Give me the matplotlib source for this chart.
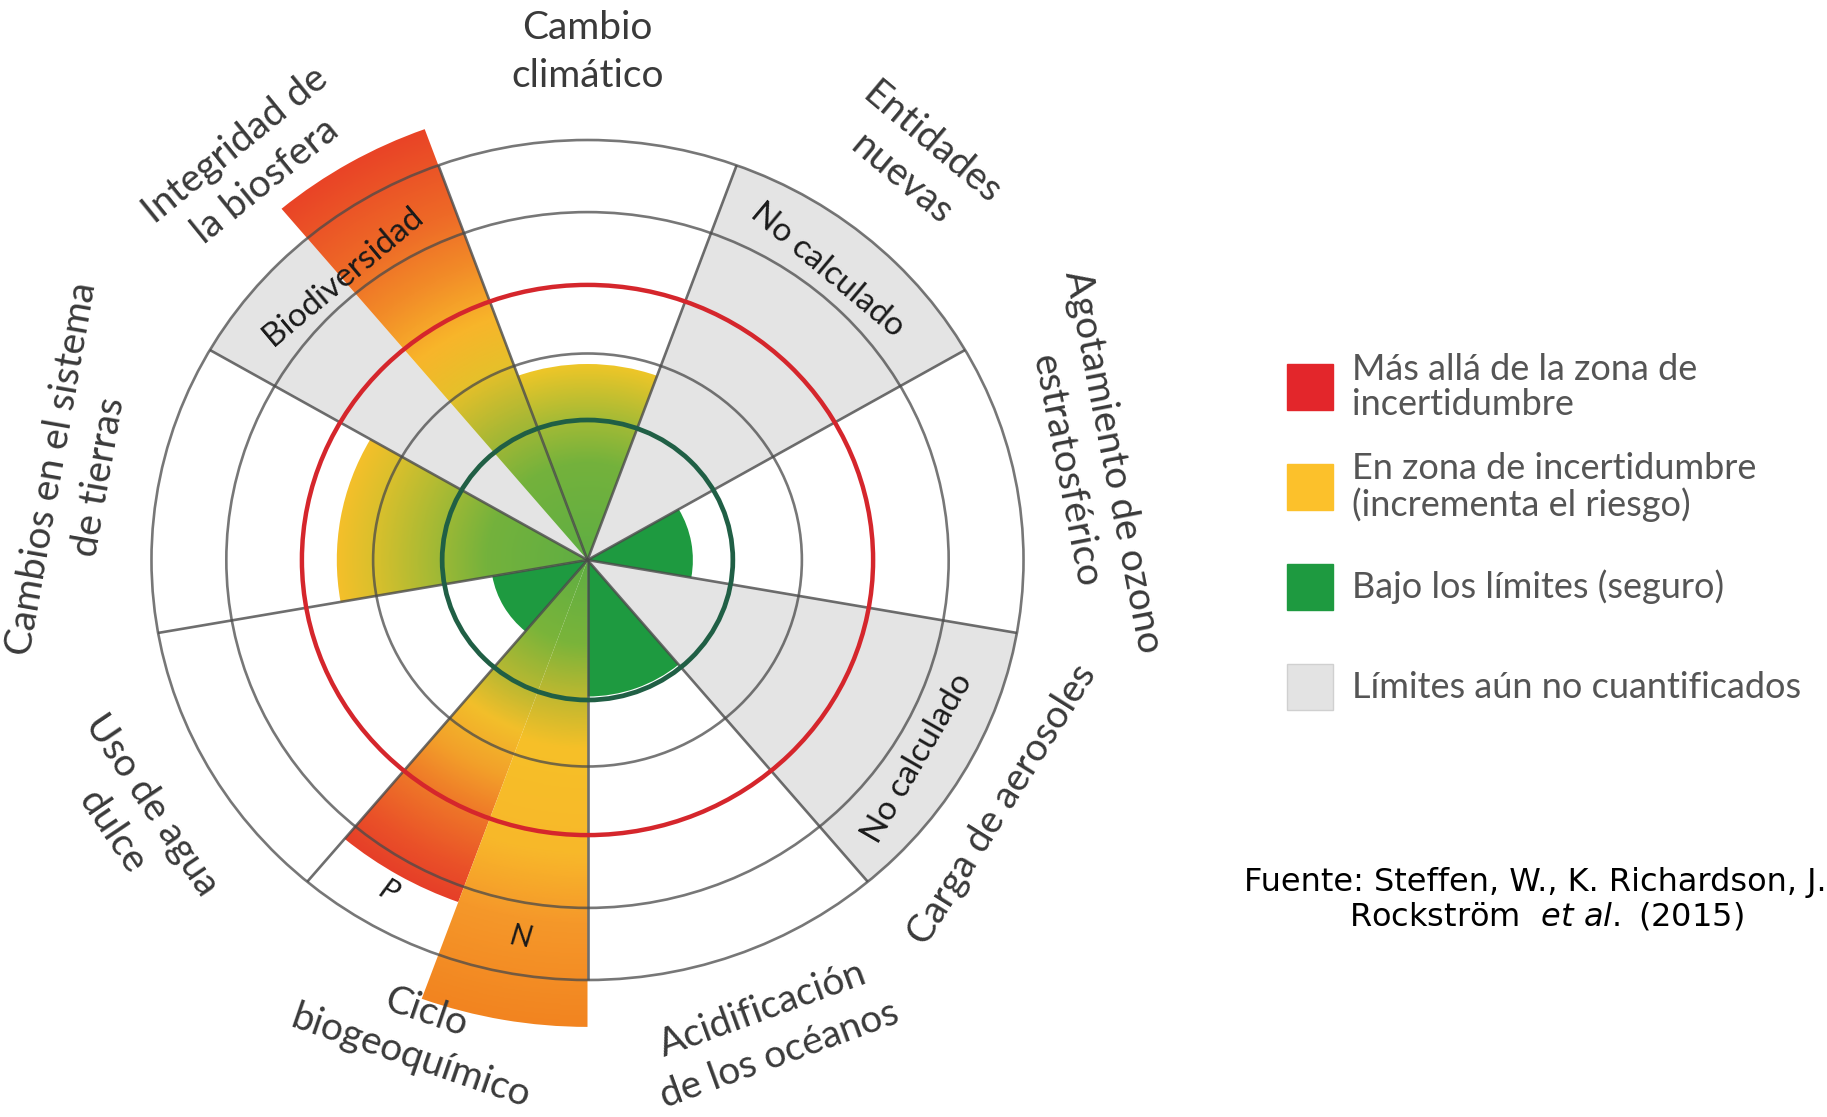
import numpy as np
import matplotlib.pyplot as plt
from matplotlib.patches import Wedge, Circle, Rectangle
from matplotlib.colors import LinearSegmentedColormap

plt.rcParams["font.family"] = ["Lato", "DejaVu Sans"]
plt.rcParams["mathtext.fontset"] = "dejavusans"

# ---- datos (radio de cada cuña; 2 = límite seguro, ~3.9 = fin de la zona de incertidumbre)
categories = ["Cambio\nclimático", "Entidades\nnuevas", "Agotamiento de ozono\nestratosférico",
              "Carga de aerosoles", "Acidificación\nde los océanos", "Ciclo\nbiogeoquímico",
              "Uso de agua\ndulce", "Cambios en el sistema\nde tierras", "Integridad de\nla biosfera"]
values = [[2.8], [None], [1.45], [None], [1.95], [5.2, 6.67], [1.33], [3.45], [6.55, None]]
rings = [2.0, 2.95, 3.93, 4.97, 6.0]
inner_texts = ["No calculado", "No calculado", "P", "N", "Biodiversidad"]

legend_labels = ["Más allá de la zona de\nincertidumbre", "En zona de incertidumbre\n(incrementa el riesgo)",
                 "Bajo los límites (seguro)", "Límites aún no cuantificados"]
legend_colors = ["#e3262b", "#fcc12b", "#1e9a40", "#e3e3e3"]
source_1 = "Fuente: Steffen, W., K. Richardson, J."
source_2 = r"Rockström  $\it{et\ al.}$ (2015)"

# ---- estilos
GREEN = "#1e9a40"
GRAY = "#e4e4e4"
grad_stops = {
    (0, 0): [(0, "#5fae43"), (1.4, "#74b23c"), (2.0, "#a2ba36"), (2.8, "#eec628")],
    (5, 0): [(0, "#5fae43"), (1.2, "#7ab43a"), (2.0, "#b8b832"), (2.6, "#f2bf2a"), (3.3, "#f3a02a"),
             (4.0, "#ee7428"), (4.7, "#ea5228"), (5.2, "#e63f28")],
    (5, 1): [(0, "#5fae43"), (1.2, "#7ab43a"), (2.0, "#c0b830"), (2.7, "#f6c028"), (4.2, "#f8b82a"),
             (5.2, "#f5982a"), (6.67, "#f28420")],
    (7, 0): [(0, "#5fae43"), (1.4, "#74b23c"), (2.2, "#a8ba34"), (3.0, "#dcc02c"), (3.45, "#f4bf2a")],
    (8, 0): [(0, "#5fae43"), (1.4, "#74b23c"), (2.2, "#aab834"), (3.0, "#e6c02a"), (3.7, "#f8b52a"),
             (4.5, "#f28c28"), (5.3, "#ee6a27"), (6.55, "#e94426")],
}
label_pos = [(7.26, 90, 0), (7.28, 51.5, -40), (7.03, 11, -79), (6.69, 328.5, 58), (7.2, 290.5, 20),
             (7.17, 251, -19), (7.28, 210.5, -56), (7.15, 170, 80), (7.33, 129.3, 39)]
inner_pos = [(5.3, 51.5, -40, 24, "normal"), (5.35, 328, 60, 24, "normal"), (5.47, 239.9, -30, 22, "italic"),
             (5.47, 260.3, -10, 22, "italic"), (5.27, 129.7, 40, 24, "normal")]

W, H = 1827, 1117
cx, cy, ux, uy = 587.5, 560.0, 72.67, 70.0

fig = plt.figure(figsize=(W / 100, H / 100), dpi=100)
ax = fig.add_axes([0, 0, 1, 1])

xs = np.linspace(-7, 7, 900)
X, Y = np.meshgrid(xs, xs)
R = np.hypot(X, Y)

for i, sub_vals in enumerate(values):
    t0 = 90 - 40 * i - 20
    w = 40 / len(sub_vals)
    for k, v in enumerate(sub_vals):
        a1, a2 = t0 + k * w, t0 + (k + 1) * w
        if v is None:
            ax.add_patch(Wedge((0, 0), rings[-1], a1, a2, fc=GRAY, ec="none", zorder=1))
        elif (i, k) in grad_stops:
            cmap = LinearSegmentedColormap.from_list(f"g{i}{k}", [(s / v, c) for s, c in grad_stops[(i, k)]])
            wedge = Wedge((0, 0), v, a1, a2, fc="none", ec="none")
            ax.add_patch(wedge)
            im = ax.imshow(cmap(np.clip(R / v, 0, 1)), extent=(-7, 7, -7, 7), origin="lower",
                           aspect="auto", interpolation="bilinear", zorder=2)
            im.set_clip_path(wedge)
        else:
            ax.add_patch(Wedge((0, 0), v, a1, a2, fc=GREEN, ec="none", zorder=2))

# anillos
for r in rings:
    if r == rings[0]:
        ax.add_patch(Circle((0, 0), r, fill=False, ec="#205f45", lw=3.4, zorder=4))
    elif r == rings[2]:
        ax.add_patch(Circle((0, 0), r, fill=False, ec="#d5262c", lw=3.2, zorder=4))
    else:
        ax.add_patch(Circle((0, 0), r, fill=False, ec="#4a4a4a", lw=1.9, alpha=0.75, zorder=3))

# divisiones
for i in range(len(categories)):
    a = np.deg2rad(90 - 40 * i + 20)
    ax.plot([0, rings[-1] * np.cos(a)], [0, rings[-1] * np.sin(a)], color="#4a4a4a", lw=1.9,
            alpha=0.8, zorder=3, solid_capstyle="butt")

for name, (r, ang, rot) in zip(categories, label_pos):
    a = np.deg2rad(ang)
    ax.text(r * np.cos(a), r * np.sin(a), name, rotation=rot, ha="center", va="center",
            rotation_mode="anchor", fontsize=28, color="#3a3a3a", multialignment="center",
            linespacing=1.4, zorder=5)

for txt, (r, ang, rot, fs, style) in zip(inner_texts, inner_pos):
    a = np.deg2rad(ang)
    ax.text(r * np.cos(a), r * np.sin(a), txt, rotation=rot, ha="center", va="center",
            rotation_mode="anchor", fontsize=fs, style=style, color="#1a1a1a", zorder=5)

ax.set_xlim(-cx / ux, (W - cx) / ux)
ax.set_ylim((cy - H) / uy, cy / uy)
ax.axis("off")

# leyenda
for j, (lab, col) in enumerate(zip(legend_labels, legend_colors)):
    yc = 387 + 100 * j
    fig.add_artist(Rectangle((1287 / W, 1 - (yc + 23) / H), 46 / W, 46 / H, transform=fig.transFigure,
                             fc=col, ec="#d0d0d0" if col == "#e3e3e3" else col, lw=1))
    fig.text(1352 / W, 1 - yc / H, lab, ha="left", va="center", fontsize=26, color="#555555",
             linespacing=1.1)

# fuente
fig.text(1244 / W, 1 - 882 / H, source_1, ha="left", va="center", fontsize=23, family="DejaVu Sans",
         color="black")
fig.text(1546 / W, 1 - 917 / H, source_2, ha="center", va="center", fontsize=23, family="DejaVu Sans",
         color="black")

fig.savefig("out.png", dpi=100)
